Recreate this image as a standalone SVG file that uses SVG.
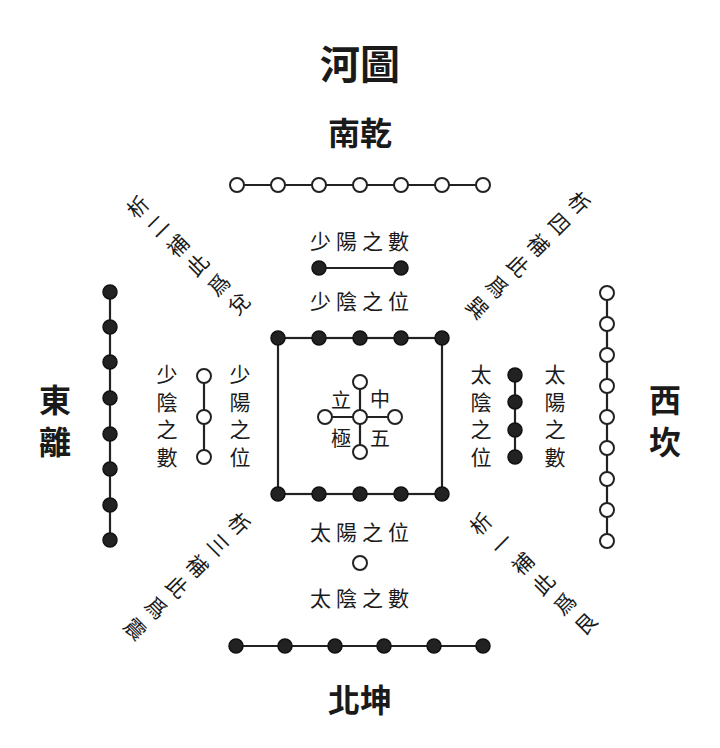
<svg xmlns="http://www.w3.org/2000/svg" width="720" height="748" viewBox="0 0 720 748">
<defs>
<style>
text{font-family:"Noto Sans CJK TC","Noto Sans CJK SC",sans-serif;fill:#1a1a1a;dominant-baseline:central;text-anchor:middle}
.t{font-size:40px;font-weight:bold}
.d{font-size:32px;font-weight:bold}
.m{font-size:21px}
.v{font-size:21px;writing-mode:vertical-rl;text-anchor:start;letter-spacing:6.5px}
.s{font-size:20px}
.g{font-size:21px}
.ln{stroke:#222;stroke-width:2.2;fill:none}
.w{fill:#fff;stroke:#222;stroke-width:2}
.b{fill:#222;stroke:#111;stroke-width:1.5}
</style>
<circle id="wd" class="w" r="7"/>
<circle id="bd" class="b" r="7"/>
</defs>
<rect width="720" height="748" fill="#fff"/>

<g id="labels-main">
<text class="t" x="360" y="62">河圖</text>
<text class="d" x="360" y="131">南乾</text>
<text class="d" x="360" y="698">北坤</text>
<text class="d" x="55" y="398">東</text>
<text class="d" x="55" y="440">離</text>
<text class="d" x="665" y="398">西</text>
<text class="d" x="665" y="440">坎</text>
</g>

<g id="connectors">
<line class="ln" x1="237" y1="185" x2="483" y2="185"/>
<line class="ln" x1="319" y1="268" x2="401" y2="268"/>
<rect class="ln" x="278" y="338" width="164" height="156"/>
<line class="ln" x1="360" y1="382" x2="360" y2="452"/>
<line class="ln" x1="325" y1="417" x2="395" y2="417"/>
<line class="ln" x1="110" y1="292" x2="110" y2="540"/>
<line class="ln" x1="607" y1="293" x2="607" y2="541"/>
<line class="ln" x1="204" y1="376" x2="204" y2="457"/>
<line class="ln" x1="515" y1="375" x2="515" y2="457"/>
<line class="ln" x1="236" y1="646" x2="483" y2="646"/>
</g>

<g id="south-seven">
<use href="#wd" x="237" y="185"/><use href="#wd" x="278" y="185"/><use href="#wd" x="319" y="185"/><use href="#wd" x="360" y="185"/><use href="#wd" x="401" y="185"/><use href="#wd" x="442" y="185"/><use href="#wd" x="483" y="185"/>
</g>
<g id="south-two">
<text class="m" x="362" y="240" letter-spacing="5">少陽之數</text>
<use href="#bd" x="319" y="268"/><use href="#bd" x="401" y="268"/>
<text class="m" x="362" y="300" letter-spacing="5">少陰之位</text>
</g>

<g id="center">
<use href="#bd" x="278" y="338"/><use href="#bd" x="319" y="338"/><use href="#bd" x="360" y="338"/><use href="#bd" x="401" y="338"/><use href="#bd" x="442" y="338"/>
<use href="#bd" x="278" y="494"/><use href="#bd" x="319" y="494"/><use href="#bd" x="360" y="494"/><use href="#bd" x="401" y="494"/><use href="#bd" x="442" y="494"/>
<use href="#wd" x="360" y="382"/><use href="#wd" x="325" y="417"/><use href="#wd" x="360" y="417"/><use href="#wd" x="395" y="417"/><use href="#wd" x="360" y="452"/>
<text class="s" x="341" y="399">立</text><text class="s" x="380" y="398">中</text>
<text class="s" x="341" y="437">極</text><text class="s" x="380" y="437">五</text>
</g>

<g id="east-eight">
<use href="#bd" x="110" y="292"/><use href="#bd" x="110" y="327"/><use href="#bd" x="110" y="362"/><use href="#bd" x="110" y="398"/><use href="#bd" x="110" y="434"/><use href="#bd" x="110" y="469"/><use href="#bd" x="110" y="505"/><use href="#bd" x="110" y="540"/>
</g>
<g id="east-three">
<use href="#wd" x="204" y="376"/><use href="#wd" x="204" y="417"/><use href="#wd" x="204" y="457"/>
<text class="v" x="167" y="364">少陰之數</text>
<text class="v" x="240" y="364">少陽之位</text>
</g>

<g id="west-nine">
<use href="#wd" x="607" y="293"/><use href="#wd" x="607" y="324"/><use href="#wd" x="607" y="355"/><use href="#wd" x="607" y="386"/><use href="#wd" x="607" y="417"/><use href="#wd" x="607" y="448"/><use href="#wd" x="607" y="479"/><use href="#wd" x="607" y="510"/><use href="#wd" x="607" y="541"/>
</g>
<g id="west-four">
<use href="#bd" x="515" y="375"/><use href="#bd" x="515" y="402"/><use href="#bd" x="515" y="430"/><use href="#bd" x="515" y="457"/>
<text class="v" x="481" y="364">太陰之位</text>
<text class="v" x="555" y="364">太陽之數</text>
</g>

<g id="north-one">
<text class="m" x="362" y="531" letter-spacing="5">太陽之位</text>
<use href="#wd" x="360" y="563"/>
<text class="m" x="362" y="597" letter-spacing="5">太陰之數</text>
</g>
<g id="north-six">
<use href="#bd" x="236" y="646"/><use href="#bd" x="285" y="646"/><use href="#bd" x="335" y="646"/><use href="#bd" x="384" y="646"/><use href="#bd" x="434" y="646"/><use href="#bd" x="483" y="646"/>
</g>

<g id="diag-nw">
<text class="g" transform="translate(137,206) rotate(-45)">析</text>
<text class="g" transform="translate(157,225) rotate(-45)">二</text>
<text class="g" transform="translate(177,245) rotate(-45)">補</text>
<text class="g" transform="translate(197,264) rotate(-45)">此</text>
<text class="g" transform="translate(218,284) rotate(-45)">爲</text>
<text class="g" transform="translate(238,303) rotate(-45)">兌</text>
</g>
<g id="diag-ne">
<text class="g" transform="translate(580,202) rotate(45)">析</text>
<text class="g" transform="translate(560,223) rotate(45)">四</text>
<text class="g" transform="translate(539,244) rotate(45)">補</text>
<text class="g" transform="translate(519,265) rotate(45)">此</text>
<text class="g" transform="translate(498,286) rotate(45)">爲</text>
<text class="g" transform="translate(478,307) rotate(45)">巽</text>
</g>
<g id="diag-sw">
<text class="g" transform="translate(240,523) rotate(45)">析</text>
<text class="g" transform="translate(219,544) rotate(45)">三</text>
<text class="g" transform="translate(198,565) rotate(45)">補</text>
<text class="g" transform="translate(178,586) rotate(45)">此</text>
<text class="g" transform="translate(157,607) rotate(45)">爲</text>
<text class="g" transform="translate(136,628) rotate(45)">震</text>
</g>
<g id="diag-se">
<text class="g" transform="translate(480,523) rotate(-45)">析</text>
<text class="g" transform="translate(501,543) rotate(-45)">一</text>
<text class="g" transform="translate(522,563) rotate(-45)">補</text>
<text class="g" transform="translate(543,583) rotate(-45)">此</text>
<text class="g" transform="translate(564,603) rotate(-45)">爲</text>
<text class="g" transform="translate(585,623) rotate(-45)">艮</text>
</g>
</svg>
